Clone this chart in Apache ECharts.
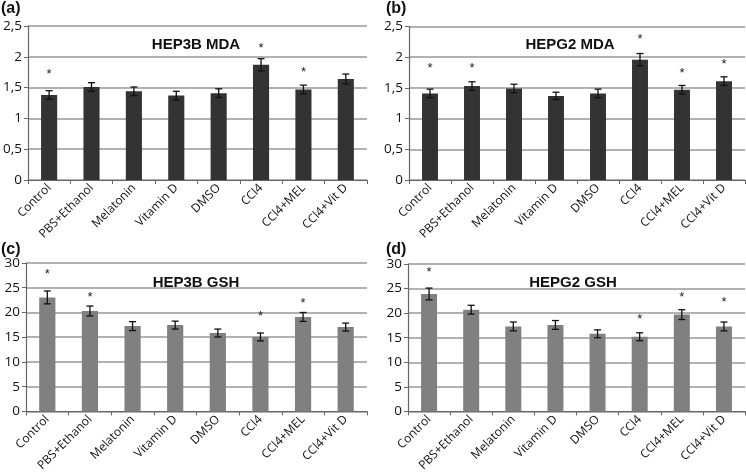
<!DOCTYPE html>
<html>
<head>
<meta charset="utf-8">
<script src="https://cdn.jsdelivr.net/npm/echarts@6/dist/echarts.min.js"></script>
<style>html,body{margin:0;padding:0;background:#fff}#c{width:746px;height:474px}</style>
</head>
<body>
<div id="c"></div>
<script>
const categories = ['Control','PBS+Ethanol','Melatonin','Vitamin D','DMSO','CCl4','CCl4+MEL','CCl4+Vit D'];

const hep3bMda = [1.38,1.51,1.44,1.37,1.41,1.87,1.47,1.64];
const hep3bMdaErr = [0.07,0.07,0.07,0.07,0.07,0.10,0.07,0.08];
const hep3bMdaStar = [1.77,null,null,null,null,2.19,1.80,null];

const hepg2Mda = [1.41,1.53,1.49,1.37,1.41,1.96,1.47,1.61];
const hepg2MdaErr = [0.07,0.07,0.07,0.06,0.07,0.10,0.07,0.07];
const hepg2MdaStar = [1.87,1.87,null,null,null,2.34,1.79,1.93];

const hep3bGsh = [23.05,20.3,17.25,17.45,15.85,15.05,19.1,17.05];
const hep3bGshErr = [1.3,1.0,0.9,0.8,0.8,0.8,0.9,0.8];
const hep3bGshStar = [28.2,23.6,null,null,null,19.8,22.4,null];

const hepg2Gsh = [23.9,20.7,17.3,17.6,15.8,15.2,19.7,17.3];
const hepg2GshErr = [1.2,0.9,0.9,0.9,0.8,0.8,1.0,0.9];
const hepg2GshStar = [28.8,null,null,null,null,19.4,23.9,22.8];

const mdaTicks = {min:0, max:2.5, interval:0.5};
const gshTicks = {min:0, max:30, interval:5};

const panels = [
  {title:'HEP3B MDA', tag:'(a)', vals:hep3bMda, err:hep3bMdaErr, star:hep3bMdaStar, ticks:mdaTicks, color:'#333333'},
  {title:'HEPG2 MDA', tag:'(b)', vals:hepg2Mda, err:hepg2MdaErr, star:hepg2MdaStar, ticks:mdaTicks, color:'#333333'},
  {title:'HEP3B GSH', tag:'(c)', vals:hep3bGsh, err:hep3bGshErr, star:hep3bGshStar, ticks:gshTicks, color:'#808080'},
  {title:'HEPG2 GSH', tag:'(d)', vals:hepg2Gsh, err:hepg2GshErr, star:hepg2GshStar, ticks:gshTicks, color:'#808080'}
];

const grids = [
  {left:26, top:26, width:341, height:154},
  {left:409, top:26.5, width:336, height:153.5},
  {left:26, top:263, width:341, height:154},
  {left:408, top:264, width:337, height:154}
];
const titlePos = [[196,37],[570,37],[196,275],[573,275]];
const tagPos = [[1,1],[386,1],[1,242],[386,242]];

const font = '"Open Sans", "Noto Sans", sans-serif';
const option = {
  animation:false,
  backgroundColor:'#fff',
  grid: grids,
  xAxis: grids.map((g,i)=>({
    type:'category', gridIndex:i, data:categories,
    axisLine:{lineStyle:{color:'#666', width:1.2}},
    axisTick:{show:true, interval:0, length:4, lineStyle:{color:'#666'}},
    axisLabel:{rotate:45, interval:0, fontSize:12, color:'#111', margin:6, fontFamily:font},
    splitLine:{show:false}
  })),
  yAxis: panels.map((p,i)=>({
    type:'value', gridIndex:i, min:p.ticks.min, max:p.ticks.max, interval:p.ticks.interval,
    axisLine:{show:true, lineStyle:{color:'#666', width:1.2}},
    axisTick:{show:true, length:4, lineStyle:{color:'#666'}},
    axisLabel:{fontSize:13.5, color:'#111', margin:6, fontFamily:font,
      formatter:v=>String(v).replace('.',',')},
    splitLine:{lineStyle:{color:'#999', width:1.5}}
  })),
  graphic: [],
  series: []
};
panels.forEach((p,i)=>{
  option.graphic.push({type:'text', x:titlePos[i][0], y:titlePos[i][1],
    style:{text:p.title, font:'bold 15px "Liberation Sans", Arial, sans-serif', fill:'#111', align:'center', verticalAlign:'top'}});
  option.graphic.push({type:'text', x:tagPos[i][0], y:tagPos[i][1],
    style:{text:p.tag, font:'bold 16px "Liberation Sans", Arial, sans-serif', fill:'#111', align:'left', verticalAlign:'top'}});
});

panels.forEach((p,i)=>{
  option.series.push({
    type:'bar', xAxisIndex:i, yAxisIndex:i, data:p.vals, barWidth:'38%',
    itemStyle:{color:p.color}
  });
  option.series.push({
    type:'custom', xAxisIndex:i, yAxisIndex:i, z:10,
    data:p.vals.map((v,k)=>[k, v-p.err[k], v+p.err[k]]),
    renderItem:(params, api)=>{
      const lo = api.coord([api.value(0), api.value(1)]);
      const hi = api.coord([api.value(0), api.value(2)]);
      const hw = 3.5;
      const st = {stroke:'#111', lineWidth:1.3};
      return {type:'group', children:[
        {type:'line', shape:{x1:lo[0], y1:lo[1], x2:hi[0], y2:hi[1]}, style:st},
        {type:'line', shape:{x1:lo[0]-hw, y1:lo[1], x2:lo[0]+hw, y2:lo[1]}, style:st},
        {type:'line', shape:{x1:hi[0]-hw, y1:hi[1], x2:hi[0]+hw, y2:hi[1]}, style:st}
      ]};
    }
  });
  option.series.push({
    type:'custom', xAxisIndex:i, yAxisIndex:i, z:10,
    data:p.star.map((v,k)=>v==null?null:[k,v]).filter(d=>d),
    renderItem:(params, api)=>{
      const pt = api.coord([api.value(0), api.value(1)]);
      return {type:'text', x:pt[0], y:pt[1]+3,
        style:{text:'*', font:'13px "Liberation Sans", Arial, sans-serif', fill:'#222', align:'center', verticalAlign:'middle'}};
    }
  });
});

const chart = echarts.init(document.getElementById('c'), null, {renderer:'canvas'});
chart.setOption(option);
</script>
</body>
</html>
